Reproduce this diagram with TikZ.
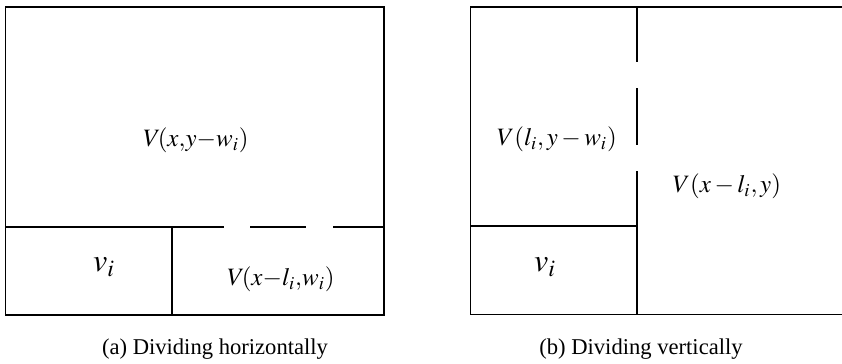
\documentclass[tikz,border=0pt]{standalone}
\usepackage{mathptmx}
\usepackage[no-math]{fontspec}
\setmainfont{Liberation Serif}
\usepackage{tikz}
\usetikzlibrary{positioning}

\begin{document}
\begin{tikzpicture}[x=0.5pt, y=-0.5pt, line width=0.65pt,
        lbl/.style={font=\fontsize{12.5}{14}\selectfont},
        bigv/.style={font=\fontsize{16}{18}\selectfont},
        captext/.style={font=\fontsize{11.3}{13}\selectfont}]
        \useasboundingbox (0,0) rectangle (842,364);

        % Dividing horizontally
        \draw (5.5,7) rectangle (384,315);
        \draw (5.5,227) -- (224,227);
        \draw (250,227) -- (306,227);
        \draw (333,227) -- (384,227);
        \draw (172,227) -- (172,315);
        \node[lbl] (upA) at (196,140) {$V\!(x{,}y{-}w_i)$};
        \node[bigv] (viA) at (104,267) {$v_i$};
        \node[lbl] (rtA) at (281,279) {$V\!(x{-}l_i{,}w_i)$};
        \node[captext] (capA) at (215,349) {(a) Dividing horizontally};

        % Dividing vertically
        \draw (842,7) -- (470.5,7) -- (470.5,314.5) -- (842,314.5);
        \draw (470.5,226) -- (637,226);
        \draw (637,7) -- (637,62);
        \draw (637,88) -- (637,145);
        \draw (637,171) -- (637,314.5);
        \node[lbl] (upB) at (557,139) {$V(l_i,y-w_i)$};
        \node[bigv] (viB) at (545,267) {$v_i$};
        \node[lbl] (rtB) at (727,186) {$V(x-l_i,y)$};
        \node[captext] (capB) at (641,349) {(b) Dividing vertically};
\end{tikzpicture}
\end{document}
